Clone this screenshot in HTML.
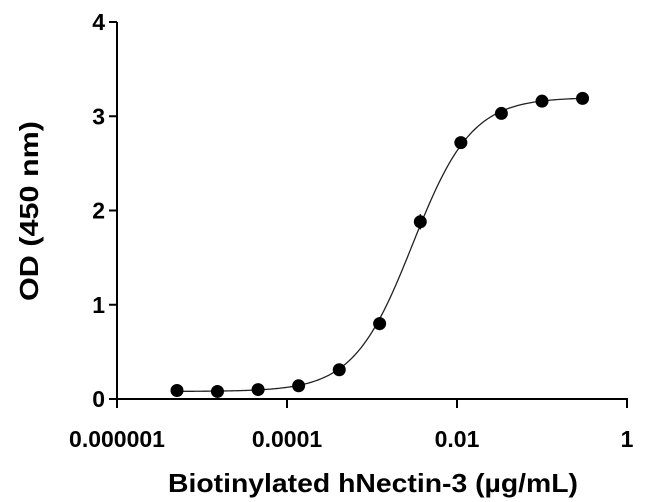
<!DOCTYPE html>
<html><head><meta charset="utf-8"><style>
body{margin:0;background:#fff}
svg{display:block;font-family:"Liberation Sans",Arial,sans-serif;font-weight:bold}
</style></head><body>
<svg id="chart" width="650" height="502" viewBox="0 0 650 502">
<g id="axes"></g>
<g id="marks"></g>
<text x="373" y="492" font-size="26" text-anchor="middle" textLength="410" lengthAdjust="spacingAndGlyphs">Biotinylated hNectin-3 (µg/mL)</text>
<text transform="translate(38,211) rotate(-90)" font-size="26" text-anchor="middle" textLength="180" lengthAdjust="spacingAndGlyphs">OD (450 nm)</text>
</svg>
<script>
const concentrations=[0.3,0.1,0.0333,0.0111,0.0037,0.00123,0.000412,0.000137,0.0000457,0.0000152,0.00000508];
const odValues=[3.19,3.16,3.03,2.72,1.88,0.80,0.31,0.14,0.10,0.08,0.09];
const odErrors=[0.02,0.02,0.03,0.03,0.08,0.07,0.03,0.02,0.01,0.01,0.01];
const xTicks=[0.000001,0.0001,0.01,1];
const xTickLabels=["0.000001","0.0001","0.01","1"];
const yTicks=[0,1,2,3,4];
const fitBottom=[0.08], fitTop=[3.2], fitEC50=[0.003], fitHill=[1.25];
const NS="http://www.w3.org/2000/svg";
const X0=117,X1=627,Y0=399,Y1=22;
const xScale=v=>X0+(Math.log10(v)+6)/6*(X1-X0);
const yScale=v=>Y0-v/4*(Y0-Y1);
function mk(tag,attrs,parent){const e=document.createElementNS(NS,tag);for(const k in attrs)e.setAttribute(k,attrs[k]);parent.appendChild(e);return e;}
const axes=document.getElementById('axes'),marks=document.getElementById('marks');
let l=mk('line',{x1:X0,y1:Y1,x2:X0,y2:Y0+7,stroke:'#000','stroke-width':2},axes);


l=mk('line',{x1:X0-1,y1:Y0,x2:X1+1,y2:Y0,stroke:'#000','stroke-width':2},axes);


yTicks.forEach(t=>{
 const y=yScale(t);
 const tk=mk('line',{x1:X0-8,y1:y,x2:X0,y2:y,stroke:'#000','stroke-width':2},axes);
 
 
 const tx=mk('text',{x:X0-12,y:y+8,'font-size':23,'text-anchor':'end'},axes);tx.textContent=t;
 
 
});
xTicks.forEach((t,i)=>{
 const x=xScale(t);
 const tk=mk('line',{x1:x,y1:Y0,x2:x,y2:Y0+9,stroke:'#000','stroke-width':2},axes);
 
 
 const tx=mk('text',{x:x,y:Y0+48,'font-size':23,'text-anchor':'middle'},axes);tx.textContent=xTickLabels[i];
 
 
});
let d='';
const lo=Math.min(...concentrations),hi=Math.max(...concentrations);
for(let i=0;i<=200;i++){
 const lv=Math.log10(lo)+(Math.log10(hi)-Math.log10(lo))*i/200;const c=Math.pow(10,lv);
 const y=fitBottom[0]+(fitTop[0]-fitBottom[0])/(1+Math.pow(fitEC50[0]/c,fitHill[0]));
 d+=(i?'L':'M')+xScale(c).toFixed(2)+','+yScale(y).toFixed(2);
}
const p=mk('path',{d:d,fill:'none',stroke:'#222','stroke-width':1.3},marks);


concentrations.forEach((c,i)=>{
 const x=xScale(c),y=yScale(odValues[i]);
 const e=mk('line',{x1:x,y1:yScale(odValues[i]+odErrors[i]),x2:x,y2:yScale(odValues[i]-odErrors[i]),stroke:'#000','stroke-width':1.5},marks);
 
 
 const pt=mk('circle',{cx:x,cy:y,r:6.5,fill:'#000'},marks);
 
 
});
</script>
</body></html>
